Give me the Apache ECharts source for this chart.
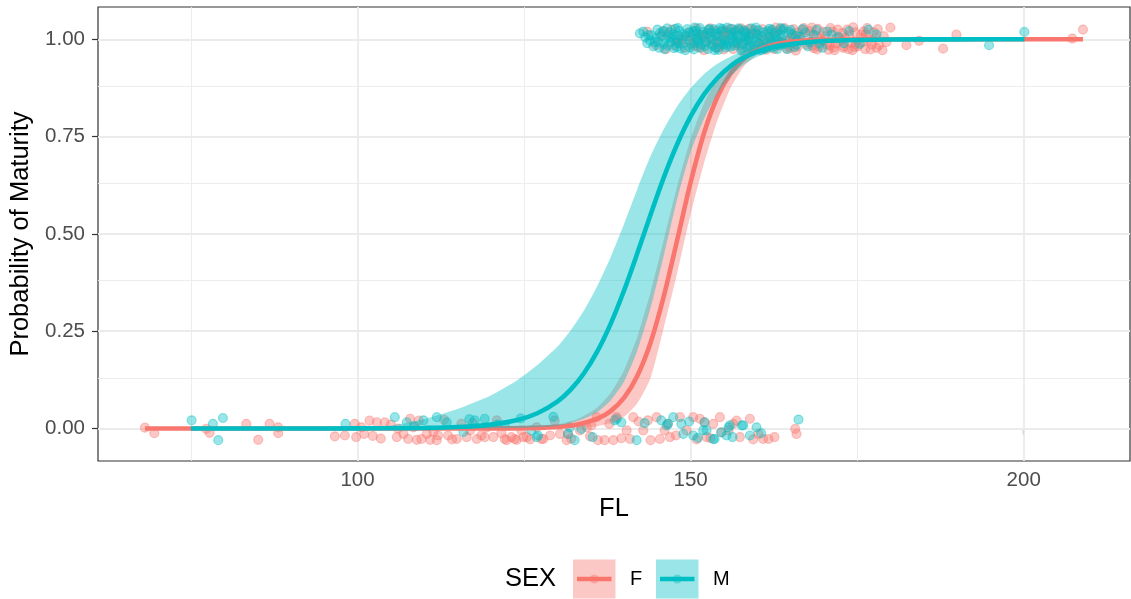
<!DOCTYPE html>
<html>
<head>
<meta charset="utf-8">
<script src="https://cdn.jsdelivr.net/npm/echarts@6/dist/echarts.min.js"></script>
<style>
  html, body { margin: 0; padding: 0; background: #ffffff; }
  #chart { width: 1131px; height: 599px; }
</style>
</head>
<body>
<div id="chart"></div>
<script>
// Axis ticks and grid positions
const xMajor = [100, 150, 200];
const xMinor = [75, 125, 175];
const yMajor = [0, 0.25, 0.5, 0.75, 1];
const yMinor = [0.125, 0.375, 0.625, 0.875];

// Jittered observations: [FL, jittered maturity]
const femaleImmature = [
  [68.1,0.002],[69.5,-0.012],[77.3,-0.001],[77.8,-0.011],[83.3,0.012],[85.1,-0.029],[86.8,0.012],[88.1,0.003],[88.1,-0.012],
  [96.6,-0.020],[98.1,-0.018],[99.6,0.012],[99.8,-0.022],[100.6,0.003],[101.0,-0.014],[102.3,-0.019],[102.9,0.016],[104.1,0.016],
  [105.9,-0.022],[106.1,0.000],[106.9,-0.014],[107.6,-0.027],[107.9,0.025],[108.4,0.003],[108.9,-0.029],[109.6,-0.027],[110.4,-0.014],
  [110.9,-0.029],[111.9,-0.030],[112.1,-0.018],[113.6,-0.018],[114.9,-0.027],[115.6,0.012],[116.4,-0.022],[116.9,-0.005],[117.9,-0.027],
  [118.6,-0.018],[119.4,0.003],[120.4,-0.022],[120.9,0.021],[122.1,-0.027],[123.1,-0.022],[123.9,-0.029],[124.6,-0.005],[125.4,-0.022],
  [126.9,0.003],[127.9,-0.027],[128.9,-0.018],[119.1,-0.022],[122.4,-0.030],[123.6,-0.027],[124.9,-0.022],[127.6,-0.027],[130.4,-0.014],
  [131.4,-0.030],[131.6,-0.014],[133.4,-0.005],[134.4,0.003],[135.9,0.029],[135.1,0.008],[136.1,-0.030],[137.1,-0.030],[138.4,-0.030],
  [138.9,0.029],[140.4,-0.005],[141.4,0.029],[140.9,-0.027],[142.9,-0.005],[143.6,0.021],[144.9,0.029],[145.4,-0.027],[146.1,-0.005],
  [146.6,0.012],[146.9,-0.022],[148.4,0.029],[149.4,-0.005],[150.4,0.029],[151.4,0.025],[152.1,0.016],[152.4,-0.022],[153.4,0.012],
  [154.4,0.029],[154.6,-0.010],[155.7,-0.005],[156.4,0.012],[157.4,-0.022],[158.9,0.025],[160.2,-0.014],[160.9,-0.027],[161.7,-0.027],
  [165.7,-0.001],[165.9,-0.014],
  [101.8,0.020],[103.5,-0.026],[105.0,0.010],[109.2,0.020],[111.4,-0.008],[113.0,0.022],[114.2,-0.028],[117.3,0.014],[121.6,-0.012],
  [125.9,-0.028],[129.6,0.020],[132.1,-0.026],[134.9,-0.020],[137.8,0.012],[139.6,-0.025],[142.2,0.018],[144.0,-0.030],[147.8,-0.018],
  [150.9,-0.028],[153.0,-0.025],[156.9,0.020],[159.4,-0.028],[162.6,-0.022]
];
const femaleMature = [
  [143.5,1.020],[144.8,0.985],[145.6,1.010],[146.3,0.975],[147.2,1.025],[147.9,0.995],[148.6,1.005],[149.1,0.978],[149.8,1.018],
  [150.4,0.990],[150.9,1.028],[151.5,1.002],[152.0,0.972],[152.6,1.015],[153.1,0.988],[153.7,1.022],[154.2,0.980],[154.8,1.008],
  [155.3,0.996],[155.9,1.027],[156.4,0.975],[157.0,1.012],[157.5,0.985],[158.1,1.021],[158.6,0.999],[159.2,0.972],[159.7,1.016],
  [160.3,0.990],[160.8,1.026],[161.4,0.980],[161.9,1.006],[162.5,0.975],[163.0,1.019],[163.6,0.993],[164.1,1.029],[164.7,0.983],
  [165.2,1.011],[165.8,0.971],[166.3,1.000],[166.9,1.024],[167.4,0.986],[168.0,1.014],[168.5,0.977],[169.1,1.027],[169.6,0.995],
  [170.2,1.008],[170.7,0.973],[171.3,1.020],[171.8,0.989],[172.4,1.003],[172.9,0.978],[173.5,1.025],[174.0,0.991],[174.4,1.031],
  [175.1,0.982],[175.6,1.012],[176.2,0.975],[176.8,0.998],[177.5,1.018],[178.3,0.985],[180.0,1.030],[182.4,0.985],[184.3,0.996],
  [187.9,0.976],[189.9,1.012],[207.3,1.002],[208.9,1.025],
  [150.1,1.005],[151.2,0.980],[152.9,1.028],[154.5,0.992],[156.1,1.010],[157.8,0.972],[159.5,1.024],[161.1,0.998],[162.8,1.030],
  [164.4,0.976],[166.0,1.017],[167.7,0.992],[169.3,0.981],[171.0,1.029],[172.6,0.995],[174.3,0.972],[176.0,1.020],[177.9,0.978],
  [179.0,1.008],[178.8,0.972],[173.2,1.004],[168.8,1.009],[163.3,0.984],[158.9,1.013],[155.0,0.974],[160.0,0.982],[165.5,1.026],
  [170.5,0.987],
  [150.6,0.983],[151.8,1.011],[153.4,0.997],[155.6,1.019],[157.3,0.992],[158.8,1.027],[160.5,1.000],[162.2,1.022],[163.9,0.991],
  [165.0,0.977],[166.6,1.008],[168.3,0.983],[169.9,1.019],[171.5,0.979],[172.1,1.025],[173.8,1.010],[174.8,0.988],[175.9,1.004],
  [177.2,0.987],[178.1,1.026],[179.4,0.993],[176.5,1.029],[173.0,0.982],[170.0,0.995],[167.0,1.029],[164.9,1.005],[162.0,0.988],
  [159.0,0.985],[156.8,1.024],[154.0,1.006],[152.3,0.995],[149.4,1.000],[147.6,0.985],[145.9,1.021],[171.9,1.003],[174.7,1.018],
  [177.0,0.974],[168.2,1.030],[165.3,0.990],[161.6,1.015],
  [152.4,1.012],[153.9,0.978],[155.1,1.018],[156.6,0.988],[158.3,1.004],[159.9,1.013],[161.3,0.973],[162.9,1.008],[164.6,0.996],
  [166.1,0.982],[167.9,1.021],[169.4,1.003],[170.9,0.984],[172.8,1.016],[174.6,0.980],[175.8,0.993],[177.7,1.004],[173.7,0.975],
  [169.0,0.974],[165.6,1.003],[161.8,0.994],[157.6,1.028],[154.9,1.022],[151.0,1.014],[148.3,0.992],[146.6,1.012],[171.6,0.972],
  [176.3,1.012],[163.5,1.026],[160.7,0.976]
];
const maleImmature = [
  [75.1,0.021],[78.3,0.012],[79.8,0.027],[79.1,-0.030],[98.2,0.012],[105.6,0.029],[107.4,0.016],[109.9,0.021],[111.9,0.029],
  [113.4,0.016],[115.9,-0.009],[117.6,0.021],[119.1,0.025],[122.1,0.008],[126.1,-0.005],[127.1,-0.018],[129.4,0.030],[126.9,-0.022],
  [131.9,0.003],[132.6,-0.030],[133.6,-0.001],[138.9,0.025],[139.6,0.016],[141.9,-0.030],[145.6,0.021],[146.4,0.008],[147.4,0.029],
  [148.9,-0.014],[150.4,-0.018],[151.9,-0.005],[153.4,-0.027],[155.4,-0.018],[155.7,0.003],[157.7,0.008],[158.9,-0.018],[159.9,0.003],
  [166.2,0.023],[131.6,-0.014],[138.6,0.021],[146.6,0.012],[148.6,0.012],[152.1,0.016],[152.4,-0.005],[153.6,-0.027],[154.6,-0.010],
  [155.9,0.008],[157.9,0.008],
  [108.6,0.006],[116.8,0.024],[121.0,0.010],[124.5,0.026],[135.3,-0.022],[143.1,0.014],[149.8,0.018],[151.1,-0.024],[156.3,-0.022],
  [160.6,-0.012]
];
const maleMature = [
  [142.4,1.015],[142.9,1.020],[143.5,0.990],[143.9,0.997],[144.4,0.982],[145.0,1.025],[145.6,1.008],[146.1,0.975],[146.5,1.028],
  [147.0,0.993],[147.4,1.012],[147.9,0.980],[148.3,1.022],[148.8,1.000],[149.2,0.972],[149.7,1.017],[150.1,0.988],[150.6,1.030],
  [151.0,1.005],[151.5,0.978],[151.9,1.019],[152.4,0.994],[152.8,1.026],[153.3,0.984],[153.7,1.010],[154.2,0.973],[154.6,1.021],
  [155.1,0.998],[155.5,1.030],[156.0,0.981],[156.4,1.007],[156.9,0.990],[157.3,1.024],[157.8,0.976],[158.2,1.013],[158.7,0.995],
  [159.1,1.028],[159.6,0.983],[160.0,1.004],[160.5,0.972],[160.9,1.018],[161.4,0.992],[161.8,1.027],[162.3,0.979],[162.7,1.009],
  [163.2,0.986],[163.8,1.022],[164.5,0.975],[165.2,1.014],[166.0,0.997],[166.8,1.026],[167.6,0.982],[168.5,1.011],[169.4,0.989],
  [170.5,1.020],[172.2,1.006],[173.0,0.990],[176.7,1.025],[177.9,1.012],[194.8,0.985],[200.1,1.019],
  [144.8,1.003],[146.8,1.018],[148.0,0.990],[149.5,1.026],[151.2,0.991],[152.9,1.002],[154.9,0.986],[156.7,1.019],[158.5,0.978],
  [160.2,1.023],[162.0,1.001],[163.5,1.029],[145.3,0.978],[150.3,1.014],[155.8,1.011],[161.0,0.976],[157.5,1.001],[153.5,1.026],
  [144.1,1.010],[145.1,0.992],[145.9,1.021],[146.6,0.984],[147.2,1.004],[147.7,1.027],[148.5,0.976],[149.0,1.013],[149.9,0.996],
  [150.8,1.022],[151.6,0.986],[152.1,1.008],[152.6,0.975],[153.1,1.017],[153.9,0.993],[154.4,1.029],[155.3,0.979],[155.9,1.002],
  [156.2,1.027],[156.6,0.984],[157.1,1.009],[157.6,0.971],[158.0,1.023],[158.4,0.997],[158.9,0.981],[159.3,1.014],[159.8,1.030],
  [160.3,0.989],[160.7,1.008],[161.2,0.977],[161.6,1.021],[162.1,0.995],[162.5,1.016],[163.0,0.975],[163.6,1.004],[164.0,0.988],
  [164.8,1.019],[165.6,0.980],[166.4,1.006],[167.2,1.017],[168.0,0.993],[168.9,1.024],[169.8,0.978],[171.2,1.012],[173.8,1.021],
  [175.4,0.988],[143.2,1.005],[148.2,1.009],[150.5,0.974],[154.0,1.015],[157.0,0.996],[159.9,0.994],[163.9,1.027],[146.3,1.000],
  [151.4,1.029],[155.2,0.990],[162.9,1.001],[165.9,0.986],[158.1,1.006],[153.8,0.978],
  [145.4,1.016],[146.0,0.988],[146.9,1.006],[147.5,0.977],[148.1,1.029],[148.7,0.989],[149.3,1.008],[149.9,0.979],[150.4,1.021],
  [151.1,0.997],[151.7,1.011],[152.2,0.983],[152.7,1.024],[153.2,0.999],[153.6,0.972],[154.3,1.007],[154.8,1.027],[155.4,0.985],
  [156.1,1.016],[156.5,0.994],[157.2,1.028],[157.9,0.988],[158.3,1.018],[158.8,1.008],[159.4,0.975],[160.1,1.012],[160.8,0.983],
  [161.5,1.004],[162.2,1.025],[162.8,0.990],[163.4,1.013],[164.2,0.997],[165.0,1.024],[165.8,1.009],[144.6,0.993],[143.7,1.011],
  [147.8,1.000],[150.9,1.000],[154.7,0.996],[159.0,1.001]
];

// Fitted logistic maturity curves with 95% confidence limits
const femaleFL    = [68.1, 90, 100, 110, 120, 125, 130, 133, 136, 138, 140, 142, 144, 146, 148, 150, 152, 154, 156, 158, 160, 163, 166, 170, 175, 180, 190, 200, 208.9];
const femaleFit   = [0, 0, 0, 0.00001, 0.0002, 0.00095, 0.0042, 0.0104, 0.0251, 0.0448, 0.0787, 0.135, 0.221, 0.341, 0.485, 0.632, 0.758, 0.851, 0.912, 0.950, 0.972, 0.988, 0.995, 0.9986, 0.9997, 1, 1, 1, 1];
const femaleUpper = [0, 0, 0, 0.00004, 0.0006, 0.0026, 0.0106, 0.0242, 0.0542, 0.0911, 0.149, 0.235, 0.350, 0.486, 0.623, 0.743, 0.835, 0.899, 0.939, 0.964, 0.979, 0.991, 0.996, 0.9987, 0.9997, 1, 1, 1, 1];
const femaleLower = [0, 0, 0, 0, 0.00002, 0.0001, 0.0005, 0.002, 0.006, 0.014, 0.03, 0.065, 0.13, 0.26, 0.40, 0.55, 0.68, 0.79, 0.875, 0.93, 0.96, 0.984, 0.994, 0.998, 0.9995, 1, 1, 1, 1];

const maleFL    = [75, 95, 105, 110, 115, 120, 124, 127, 130, 132, 134, 136, 138, 140, 142, 144, 146, 148, 150, 152, 154, 156, 158, 160, 163, 166, 170, 175, 180, 190, 200.1];
const maleFit   = [0, 0.0001, 0.0005, 0.0014, 0.0037, 0.0100, 0.0219, 0.0392, 0.0691, 0.0998, 0.142, 0.198, 0.269, 0.354, 0.450, 0.550, 0.646, 0.731, 0.802, 0.858, 0.900, 0.931, 0.953, 0.968, 0.982, 0.990, 0.9955, 0.9983, 0.9994, 0.9999, 1];
const maleUpper = [0, 0.0005, 0.008, 0.024, 0.050, 0.085, 0.124, 0.163, 0.210, 0.252, 0.303, 0.366, 0.440, 0.525, 0.615, 0.700, 0.770, 0.828, 0.874, 0.910, 0.937, 0.956, 0.970, 0.980, 0.990, 0.995, 0.998, 0.9995, 1, 1, 1];
const maleLower = [0, 0, 0, 0, 0.0001, 0.0003, 0.001, 0.003, 0.007, 0.014, 0.025, 0.042, 0.072, 0.12, 0.20, 0.31, 0.445, 0.59, 0.71, 0.795, 0.86, 0.905, 0.935, 0.955, 0.972, 0.983, 0.991, 0.996, 0.9985, 0.9998, 1];

const sexLevels = ['F', 'M'];
const colF = '#F8766D';
const colM = '#00BFC4';
const FONT = '"Liberation Sans", Arial, sans-serif';

const pairs = (xs, ys) => xs.map((x, i) => [x, ys[i]]);

// Confidence band drawn as one polygon: upper limit forward, lower limit back
function bandSeries(name, xs, lo, hi, color, z) {
  return {
    name: name,
    type: 'custom',
    z: z,
    silent: true,
    clip: true,
    data: [[xs[0], lo[0]]],
    encode: { x: 0, y: 1 },
    renderItem: function (params, api) {
      const pts = [];
      for (let i = 0; i < xs.length; i++) pts.push(api.coord([xs[i], hi[i]]));
      for (let i = xs.length - 1; i >= 0; i--) pts.push(api.coord([xs[i], lo[i]]));
      return {
        type: 'polygon',
        shape: { points: pts, smooth: 0.2 },
        style: { fill: color, opacity: 0.4 }
      };
    }
  };
}

function fitSeries(name, xs, ys, color, z) {
  return {
    name: name,
    type: 'line',
    z: z,
    silent: true,
    data: pairs(xs, ys),
    smooth: 0.3,
    showSymbol: false,
    symbol: 'none',
    lineStyle: { color: color, width: 4.6 }
  };
}

function pointSeries(name, data, color, z, extra) {
  return Object.assign({
    name: name,
    type: 'scatter',
    z: z,
    silent: true,
    symbol: 'circle',
    symbolSize: 9,
    data: data,
    itemStyle: { color: color, opacity: 0.4, borderColor: color, borderWidth: 1.2 }
  }, extra || {});
}

const gridLineData = []
  .concat(xMinor.map(v => ({ xAxis: v, lineStyle: { color: '#EBEBEB', width: 0.9, type: 'solid' } })))
  .concat(yMinor.map(v => ({ yAxis: v, lineStyle: { color: '#EBEBEB', width: 0.9, type: 'solid' } })))
  .concat(xMajor.map(v => ({ xAxis: v, lineStyle: { color: '#EBEBEB', width: 1.8, type: 'solid' } })))
  .concat(yMajor.map(v => ({ yAxis: v, lineStyle: { color: '#EBEBEB', width: 1.8, type: 'solid' } })));

const chart = echarts.init(document.getElementById('chart'), null, { renderer: 'canvas' });

const option = {
  animation: false,
  backgroundColor: '#ffffff',
  grid: {
    left: 98, right: 1, top: 7, bottom: 138,
    show: true, borderColor: '#333333', borderWidth: 1.2, backgroundColor: 'transparent'
  },
  xAxis: {
    type: 'value',
    min: 61.05, max: 215.96,
    splitNumber: 3,
    axisLine: { show: false },
    axisTick: { show: true, length: 6, lineStyle: { color: '#333333', width: 1.2 }, customValues: xMajor },
    axisLabel: { customValues: xMajor, color: '#4D4D4D', fontSize: 20.5, fontFamily: FONT, margin: 9 },
    splitLine: { show: false },
    name: 'FL',
    nameLocation: 'middle',
    nameGap: 32,
    nameTextStyle: { fontSize: 25.5, color: '#000000', fontFamily: FONT }
  },
  yAxis: {
    type: 'value',
    min: -0.0835, max: 1.083,
    axisLine: { show: false },
    axisTick: { show: true, length: 6, lineStyle: { color: '#333333', width: 1.2 }, customValues: yMajor },
    axisLabel: { customValues: yMajor, formatter: v => Number(v).toFixed(2), color: '#4D4D4D', fontSize: 20.5, fontFamily: FONT, margin: 13 },
    splitLine: { show: false },
    name: 'Probability of Maturity',
    nameLocation: 'middle',
    nameGap: 63,
    nameTextStyle: { fontSize: 25.5, color: '#000000', fontFamily: FONT }
  },
  series: [
    pointSeries('F', femaleImmature.concat(femaleMature), colF, 2, {
      markLine: { silent: true, symbol: 'none', z: 1, animation: false, label: { show: false }, data: gridLineData }
    }),
    pointSeries('M', maleImmature.concat(maleMature), colM, 2),
    bandSeries('F band', femaleFL, femaleLower, femaleUpper, colF, 3),
    fitSeries('F fit', femaleFL, femaleFit, colF, 4),
    bandSeries('M band', maleFL, maleLower, maleUpper, colM, 5),
    fitSeries('M fit', maleFL, maleFit, colM, 6)
  ],
  graphic: [
    { type: 'text', left: 505, top: 566, style: { text: 'SEX', font: '25.5px ' + FONT, fill: '#000000' } },
    { type: 'rect', shape: { x: 573, y: 559.5, width: 42.5, height: 39 }, style: { fill: colF, opacity: 0.4 } },
    { type: 'line', shape: { x1: 577, y1: 579, x2: 611.5, y2: 579 }, style: { stroke: colF, lineWidth: 4.6 } },
    { type: 'circle', shape: { cx: 594.25, cy: 579, r: 4.5 }, style: { fill: colF, opacity: 0.4 } },
    { type: 'text', left: 630, top: 569, style: { text: sexLevels[0], font: '20px ' + FONT, fill: '#000000' } },
    { type: 'rect', shape: { x: 656, y: 559.5, width: 42.5, height: 39 }, style: { fill: colM, opacity: 0.4 } },
    { type: 'line', shape: { x1: 660, y1: 579, x2: 694.5, y2: 579 }, style: { stroke: colM, lineWidth: 4.6 } },
    { type: 'circle', shape: { cx: 677.25, cy: 579, r: 4.5 }, style: { fill: colM, opacity: 0.4 } },
    { type: 'text', left: 713, top: 569, style: { text: sexLevels[1], font: '20px ' + FONT, fill: '#000000' } }
  ]
};

chart.setOption(option);
</script>
</body>
</html>
